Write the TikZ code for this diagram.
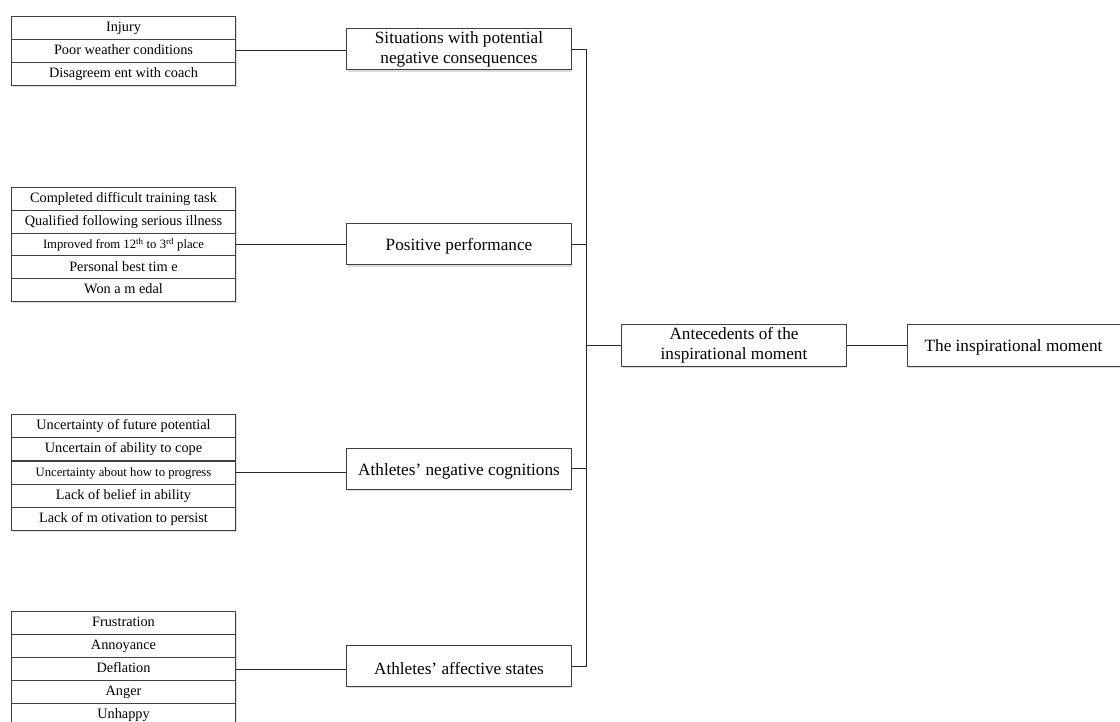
\documentclass[tikz,border=0pt]{standalone}
\usepackage{fontspec}
\setmainfont{Liberation Serif}
\usetikzlibrary{shadows}
\begin{document}
\begin{tikzpicture}[x=1pt,y=-1pt,
  boxshadow/.style={drop shadow={shadow xshift=1.2pt,shadow yshift=-1.6pt,opacity=.3,fill=black!45}},
  item/.style={draw=black!75,fill=white,line width=1pt,boxshadow,anchor=north west,
    minimum width=224pt,minimum height=23pt,inner sep=0pt,
    text height=1.0em,text depth=0.22em,
    font=\fontsize{14.3}{16}\selectfont},
  smallitem/.style={item,font=\fontsize{12.7}{14}\selectfont},
  group/.style={draw=black!75,fill=white,line width=1pt,boxshadow,
    minimum width=224.5pt,minimum height=41pt,inner sep=2pt,align=center,
    execute at begin node={\rule{0pt}{0.95em}},
    font=\fontsize{17.2}{20.5}\selectfont},
  link/.style={draw=black!85,line width=1pt}]
\useasboundingbox (0,0) rectangle (1120,722);

% situations
\node[item] (a1) at (11,16) {Injury};
\node[item] (a2) at (11,39) {Poor weather conditions};
\node[item] (a3) at (11,62) {Disagreem ent with coach};

% performance
\node[item,minimum height=22.8pt] (p1) at (11,187) {Completed difficult training task};
\node[item,minimum height=22.8pt] (p2) at (11,209.8) {Qualified following serious illness};
\node[smallitem,minimum height=22.8pt] (p3) at (11,232.6) {Improved from 12\textsuperscript{th} to 3\textsuperscript{rd} place};
\node[item,minimum height=22.8pt] (p4) at (11,255.4) {Personal best tim e};
\node[item,minimum height=22.8pt] (p5) at (11,278.2) {Won a m edal};

% cognitions
\node[item] (c1) at (11,414) {Uncertainty of future potential};
\node[item] (c2) at (11,437) {Uncertain of ability to cope};
\node[smallitem] (c3) at (11,460.5) {Uncertainty about how to progress};
\node[item] (c4) at (11,483.5) {Lack of belief in ability};
\node[item] (c5) at (11,506.5) {Lack of m otivation to persist};

% affective states
\node[item] (f1) at (11,611) {Frustration};
\node[item] (f2) at (11,634) {Annoyance};
\node[item] (f3) at (11,657) {Deflation};
\node[item] (f4) at (11,680) {Anger};
\node[item] (f5) at (11,703) {Unhappy};

% second column
\node[group] (g1) at (459,49.5) {Situations with potential\\negative consequences};
\node[group] (g2) at (459,244.5) {Positive performance};
\node[group] (g3) at (459,468.7) {Athletes’ negative cognitions};
\node[group] (g4) at (459,666.3) {Athletes’ affective states};

% right part
\node[group] (ante) at (734,345.5) {Antecedents of the\\inspirational moment};
\node[group,minimum width=215pt,anchor=west] (insp) at (906.5,345.5) {\hspace*{-2pt}The inspirational moment};

\coordinate (bus) at (586,0);

% list to category links
\draw[link] (a2.east) -- (a2.east -| g1.west);
\draw[link] (p3.east) -- (p3.east -| g2.west);
\draw[link] (c3.east) -- (c3.east -| g3.west);
\draw[link] (f3.east) -- (f3.east -| g4.west);

% category bus
\draw[link] (g1.east) -- (g1.east -| bus) -- (g4.east -| bus) -- (g4.east);
\draw[link] (g2.east) -- (g2.east -| bus);
\draw[link] (g3.east) -- (g3.east -| bus);
\draw[link,line width=1.8pt] (ante.west -| bus) -- (ante.west);
\draw[link] (ante.east) -- (insp.west);
\end{tikzpicture}
\end{document}
